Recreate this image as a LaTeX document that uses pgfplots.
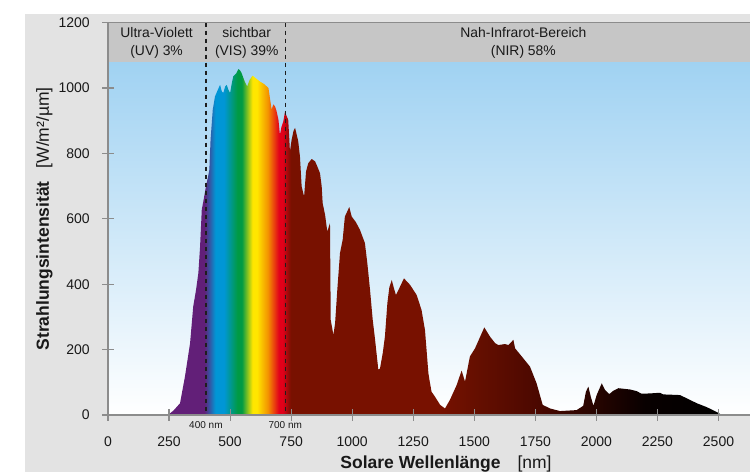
\documentclass[border=0pt]{standalone}
\usepackage{fontspec}
\setmainfont{Liberation Sans}
\usepackage{pgfplots}
\pgfplotsset{compat=1.18}

\definecolor{panel}{RGB}{227,227,227}
\definecolor{headgray}{RGB}{198,198,198}
\definecolor{skytop}{RGB}{160,210,242}
\definecolor{axgray}{RGB}{140,140,140}
\definecolor{txt}{RGB}{25,25,25}
\definecolor{dashc}{RGB}{30,30,30}
\definecolor{viol}{RGB}{98,31,120}
\definecolor{sblue}{RGB}{0,150,214}
\definecolor{sgreen}{RGB}{0,154,68}
\definecolor{syellow}{RGB}{255,230,0}
\definecolor{sorange}{RGB}{243,146,0}
\definecolor{sred}{RGB}{226,0,26}
\definecolor{dred}{RGB}{120,17,0}
\definecolor{dred2}{RGB}{102,15,0}
\definecolor{dred3}{RGB}{76,8,0}
\definecolor{dred4}{RGB}{38,4,0}
\definecolor{dred5}{RGB}{8,0,0}

% bounding box of the spectrum path: x = 250 ... 2550 nm  -> 25bp ... 75bp
\pgfdeclarehorizontalshading{spectrum}{100bp}{%
color(0bp)=(viol);
color(25bp)=(viol);
color(28.15bp)=(viol);
color(29.13bp)=(sblue);
color(29.89bp)=(sblue);
color(31.09bp)=(sgreen);
color(31.48bp)=(sgreen);
color(32.43bp)=(syellow);
color(32.83bp)=(syellow);
color(33.80bp)=(sorange);
color(34.78bp)=(sred);
color(35.11bp)=(sred);
color(35.83bp)=(dred);
color(48.91bp)=(dred);
color(52.17bp)=(dred2);
color(57.61bp)=(dred3);
color(63.04bp)=(dred4);
color(67.39bp)=(dred5);
color(75bp)=(black);
color(100bp)=(black)}

\begin{document}
\begin{tikzpicture}
\useasboundingbox (0,0) rectangle (750pt,472pt);
\fill[panel] (25pt,0pt) rectangle (750pt,458pt);
\begin{axis}[
  at={(108pt,57pt)}, anchor=south west,
  scale only axis, width=642pt, height=392.3pt,
  xmin=0, xmax=2629, ymin=0, ymax=1200,
  enlargelimits=false, clip=false, axis on top,
  axis lines=left,
  axis line style={-, draw=axgray, line width=1.2pt},
  major tick style={draw=axgray, line width=1.2pt},
  major tick length=11.5pt, tick align=center,
  xtick={0,250,...,2500}, ytick={0,200,...,1200},
  scaled ticks=false,
  /pgf/number format/.cd, 1000 sep={}, assume math mode=true, /pgfplots/.cd,
  tick label style={font=\fontsize{14}{16}\selectfont, text=txt},
  xticklabel style={anchor=north, yshift=-12pt},
  yticklabel style={anchor=east, xshift=-9pt},
  xlabel={\textbf{Solare Wellenlänge}\hspace{17pt}[nm]},
  ylabel={\textbf{Strahlungsintensität}\hspace{13pt}[W/m²/µm]},
  label style={font=\fontsize{17.5}{20}\selectfont, text=txt},
  xlabel style={at={(axis description cs:0.5265,-0.1351)}, anchor=base},
  ylabel style={at={(axis description cs:-0.0989,0.5)}, anchor=center},
]
% sky background and header band
\addplot[draw=none, top color=skytop, bottom color=white]
  coordinates {(0,0) (2629,0) (2629,1080) (0,1080)} -- cycle;
\addplot[draw=none, fill=headgray]
  coordinates {(0,1080) (2629,1080) (2629,1200) (0,1200)} -- cycle;

% solar spectrum
\addplot[draw=none, shading=spectrum] coordinates {
(250,0) (254,5) (270,15) (295,36) (315,117) (336,219) (349,332) (360,380)
(370,434) (377,515) (384,628) (392,660) (401,699) (410,730) (415,750)
(420,842) (429,934) (438,974) (450,995) (459,1010) (466,990) (472,985)
(480,1005) (486,1010) (493,995) (500,985) (507,1015) (513,1036) (525,1045)
(534,1058) (540,1055) (547,1046) (560,1020) (570,1005) (580,1025) (592,1038)
(605,1030) (622,1020) (640,1012) (657,1000) (663,970) (670,934) (677,950)
(684,944) (690,930) (698,903) (704,857) (710,880) (718,898) (725,929)
(731,915) (738,903) (742,850) (745,806) (752,842) (760,870) (766,878)
(772,860) (779,837) (786,791) (793,699) (803,668) (811,745) (820,770)
(834,783) (848,776) (860,755) (868,740) (875,700) (879,648) (889,612)
(898,561) (909,587) (912,291) (923,245) (930,281) (939,383) (950,495)
(961,536) (970,607) (988,636) (998,607) (1015,590) (1032,566) (1052,526)
(1062,464) (1073,383) (1084,291) (1093,235) (1107,138) (1114,143) (1125,189)
(1134,240) (1144,342) (1152,390) (1162,413) (1170,390) (1179,367) (1188,380)
(1196,393) (1212,418) (1237,398) (1264,367) (1284,321) (1298,260) (1312,128)
(1318,100) (1325,71) (1339,56) (1360,31) (1380,20) (1400,46) (1428,92)
(1448,136) (1462,102) (1482,179) (1503,204) (1541,268) (1564,240) (1585,220)
(1598,214) (1626,217) (1640,214) (1660,230) (1667,204) (1701,173) (1728,148)
(1755,97) (1780,31) (1810,20) (1851,12) (1919,15) (1946,28) (1957,71)
(1967,87) (1977,56) (1988,28) (2001,61) (2022,97) (2035,77) (2053,64)
(2069,74) (2090,82) (2138,78) (2165,73) (2185,65) (2219,66) (2260,68)
(2274,63) (2342,61) (2370,51) (2411,36) (2452,24) (2493,9) (2507,3) (2550,0)
} -- cycle;

% region boundaries
\addplot[draw=dashc, line width=1.4pt, dash pattern=on 4.5pt off 3.5pt]
  coordinates {(401,1200) (401,0)};
\addplot[draw=dashc, line width=1.4pt, dash pattern=on 4.5pt off 3.5pt]
  coordinates {(726,1200) (726,0)};

% top frame line
\draw[axgray, line width=1.2pt] (rel axis cs:0,1) -- (rel axis cs:1,1);

% header texts
\begin{scope}[every node/.style={font=\fontsize{13.9}{18.5}\selectfont, text=txt, align=center}]
\node at (axis cs:199,1138) {Ultra-Violett\\(UV) 3\%};
\node at (axis cs:568,1138) {sichtbar\\(VIS) 39\%};
\node at (axis cs:1701,1138) {Nah-Infrarot-Bereich\\(NIR) 58\%};
\end{scope}

% small wavelength labels
\node[font=\fontsize{10}{12}\selectfont, text=txt] at (axis cs:401,0) [yshift=-10pt] {400 nm};
\node[font=\fontsize{10}{12}\selectfont, text=txt] at (axis cs:726,0) [yshift=-10pt] {700 nm};
\end{axis}
\end{tikzpicture}
\end{document}
